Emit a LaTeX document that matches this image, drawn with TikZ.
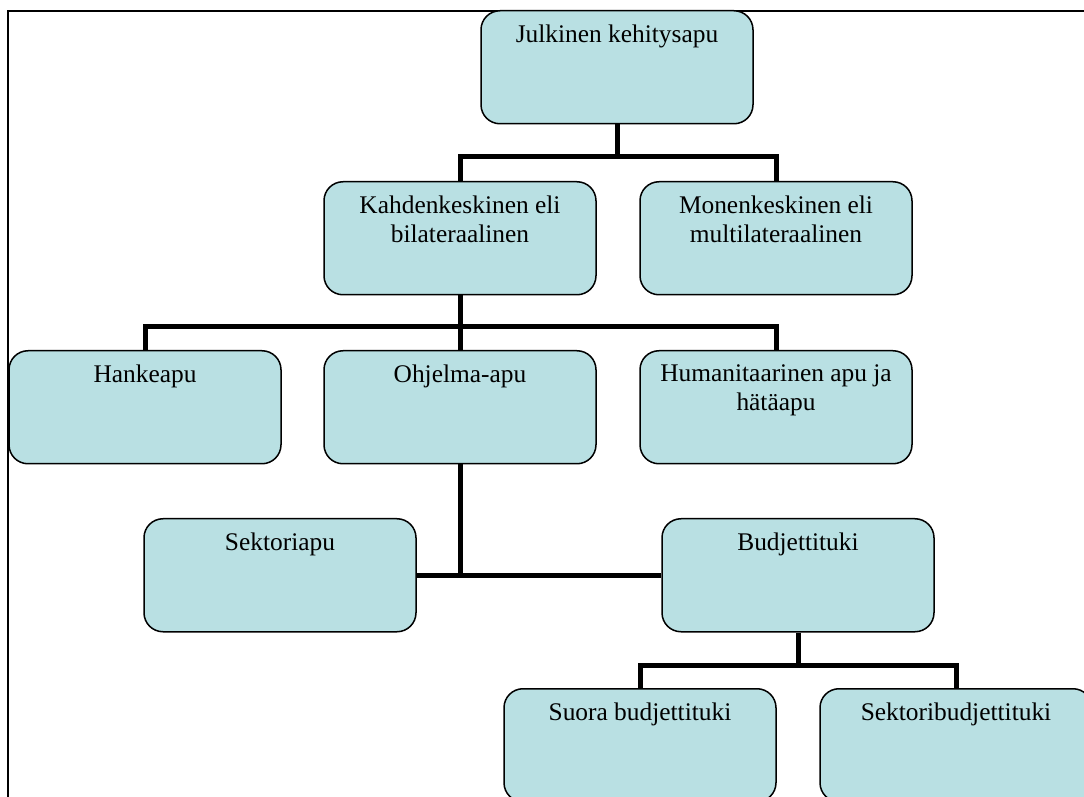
\documentclass[tikz,border=0pt]{standalone}
\usepackage{fontspec}
\setmainfont{Liberation Serif}
\usepackage{xcolor}
\usepackage{tikz}
\usetikzlibrary{positioning, calc}
\definecolor{boxfill}{RGB}{185,224,227}
\tikzstyle{aid} = [rectangle, rounded corners=9.5pt, draw=black, line width=0.75pt, fill=boxfill, anchor=north, minimum width=136pt, minimum height=56.5pt, inner xsep=2pt, inner ysep=7pt, font=\fontsize{12.7}{14.5}\selectfont, execute at begin node={\begin{minipage}[t][42.5pt][t]{132pt}\centering}, execute at end node={\end{minipage}}]
\tikzstyle{link} = [line width=2.5pt]

\begin{document}
\begin{tikzpicture}[x=0.5pt, y=-0.5pt]
    \useasboundingbox (0,0) rectangle (1084,797);
    \clip (0,0) rectangle (1084,797);
    \draw [line width=1pt] (7.5,800) -- (7.5,11) -- (1090,11);

    \node (pub) [aid] at (617,10) {Julkinen kehitysapu};
    \node (bil) [aid] at (460,181) {Kahdenkeskinen eli\\ bilateraalinen};
    \node (mul) [aid] at (776,181) {Monenkeskinen eli\\ multilateraalinen};
    \node (han) [aid] at (145,350) {Hankeapu};
    \node (ohj) [aid] at (460,350) {Ohjelma-apu};
    \node (hum) [aid] at (776,350) {Humanitaarinen apu ja\\ hätäapu};
    \node (sek) [aid] at (280,518) {Sektoriapu};
    \node (bud) [aid] at (798,518) {Budjettituki};
    \node (sua) [aid] at (640,688) {Suora budjettituki};
    \node (sbu) [aid] at (956,688) {Sektoribudjettituki};

    \draw [link] (pub.south) -- ++(0,32);
    \draw [link] (bil.north) -- ++(0,-24) -| (mul.north);
    \draw [link] (bil.south) -- (ohj.north);
    \draw [link] (han.north) -- ++(0,-23) -| (hum.north);
    \draw [link] (ohj.south) -- (ohj.south |- sek.east);
    \draw [link] (sek.east) -- (bud.west);
    \draw [link] (bud.south) -- ++(0,33);
    \draw [link] (sua.north) -- ++(0,-23) -| (sbu.north);
\end{tikzpicture}
\end{document}
